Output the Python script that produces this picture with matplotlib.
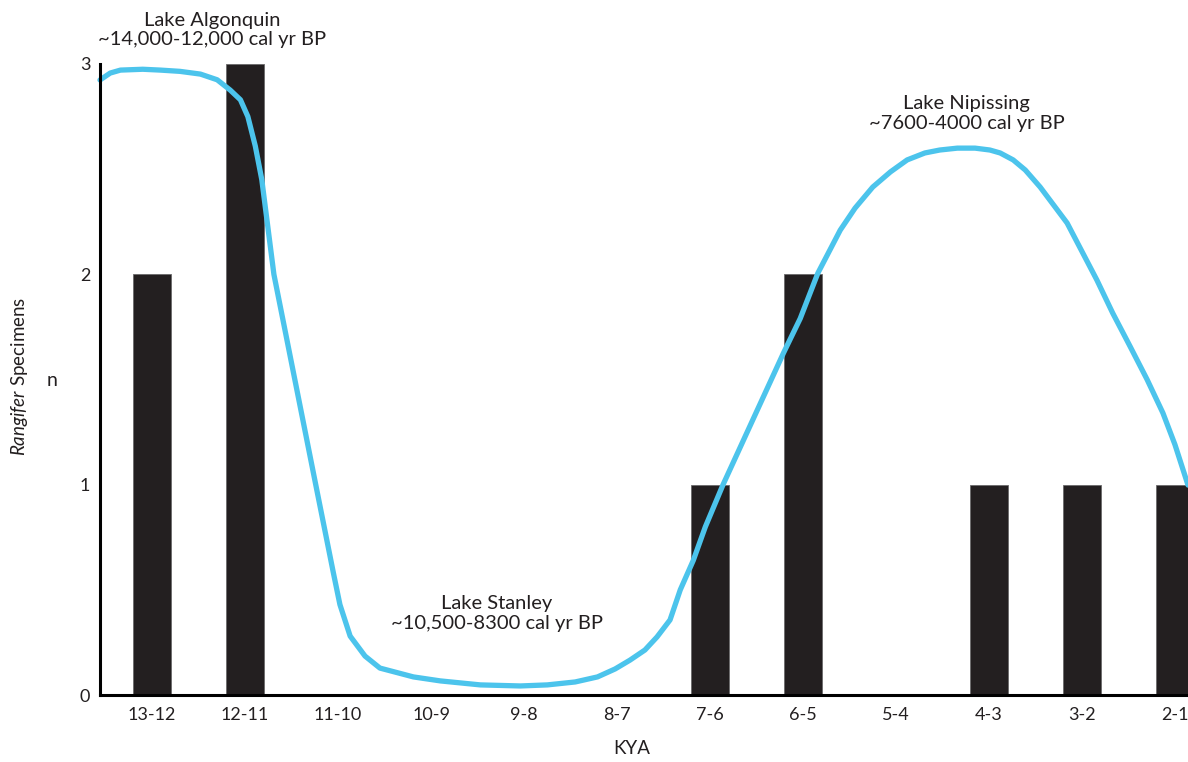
import matplotlib
matplotlib.use("Agg")
import matplotlib.pyplot as plt
import numpy as np

# ---- data ----
categories = ["13-12", "12-11", "11-10", "10-9", "9-8", "8-7", "7-6", "6-5", "5-4", "4-3", "3-2", "2-1"]
specimens = [2, 3, 0, 0, 0, 0, 1, 2, 0, 1, 1, 1]

# lake-level curve (x in category-index units, y in count units)
curve_x = [-0.56, -0.45, -0.34, -0.10, 0.09, 0.30, 0.52, 0.70, 0.84, 0.95, 1.03, 1.11, 1.18,
           1.31, 1.76, 1.95, 2.02, 2.13, 2.29, 2.45, 2.81, 3.10, 3.53, 3.96, 4.25, 4.55, 4.79,
           4.98, 5.14, 5.30, 5.43, 5.57, 5.68, 5.82, 5.95, 6.14, 6.79, 6.97, 7.16, 7.40,
           7.56, 7.75, 7.94, 8.12, 8.31, 8.47, 8.66, 8.85, 9.01, 9.12, 9.26, 9.39, 9.55,
           9.84, 10.16, 10.33, 10.52, 10.70, 10.87, 11.00, 11.14]
curve_y = [2.924, 2.957, 2.971, 2.975, 2.971, 2.965, 2.952, 2.925, 2.876, 2.83, 2.75, 2.61, 2.45,
           2.00, 1.00, 0.58, 0.43, 0.28, 0.185, 0.128, 0.086, 0.067, 0.048, 0.043, 0.048, 0.062,
           0.086, 0.124, 0.166, 0.214, 0.276, 0.357, 0.50, 0.64, 0.80, 1.00, 1.626, 1.79, 2.006,
           2.21, 2.315, 2.415, 2.487, 2.544, 2.577, 2.591, 2.60, 2.60, 2.591, 2.577, 2.544, 2.496,
           2.415, 2.244, 1.973, 1.816, 1.655, 1.50, 1.341, 1.19, 0.998]

lakes = ["Lake Algonquin\n~14,000-12,000 cal yr BP",
         "Lake Stanley\n~10,500-8300 cal yr BP",
         "Lake Nipissing\n~7600-4000 cal yr BP"]
lake_pos = [(0.645, 3.162), (3.71, 0.387), (8.76, 2.764)]

# ---- style ----
plt.rcParams["font.family"] = ["Lato", "DejaVu Sans"]
plt.rcParams["mathtext.fontset"] = "custom"
plt.rcParams["mathtext.it"] = "Lato:italic"
plt.rcParams["mathtext.rm"] = "Lato"

fig = plt.figure(figsize=(11.88, 7.62), dpi=100)
ax = fig.add_axes([100 / 1188, 67 / 762, 1 - 100 / 1188, (698 - 67) / 762])

x = np.arange(len(categories))
ax.bar(x, specimens, width=0.41, color="#231f20", edgecolor="#6a6a6a", linewidth=0.6, zorder=2)
ax.plot(curve_x, curve_y, color="#4cc4ec", linewidth=3.8, solid_capstyle="round",
        solid_joinstyle="round", antialiased=True, zorder=3, clip_on=False)

ax.set_xlim(-0.56, 11.14)
ax.set_ylim(0, 3)
ax.set_xticks(x)
ax.set_xticklabels(categories, fontsize=13)
ax.set_yticks([0, 1, 2, 3])
ax.set_yticklabels(["0", "1", "2", "3"], fontsize=13)
ax.tick_params(axis="both", length=0, labelcolor="#231f20")
ax.tick_params(axis="x", pad=9)
ax.tick_params(axis="y", pad=7)

for s in ["top", "right"]:
    ax.spines[s].set_visible(False)
for s in ["left", "bottom"]:
    ax.spines[s].set_linewidth(2.2)
    ax.spines[s].set_color("black")
    ax.spines[s].set_zorder(4)

for txt, (tx, ty) in zip(lakes, lake_pos):
    ax.text(tx, ty, txt, ha="center", va="center", fontsize=14.5, linespacing=1.2,
            color="#231f20", clip_on=False)

fig.text(632 / 1188, 1 - 748 / 762, "KYA", ha="center", va="center", fontsize=13.5, color="#231f20")
fig.text(20 / 1188, 1 - 376 / 762, r"$\it{Rangifer}$ Specimens", rotation=90, ha="center",
         va="center", fontsize=13.5, color="#231f20")
fig.text(52 / 1188, 1 - 380 / 762, "n", ha="center", va="center", fontsize=14, color="#231f20")

fig.savefig("out.png", dpi=100)
